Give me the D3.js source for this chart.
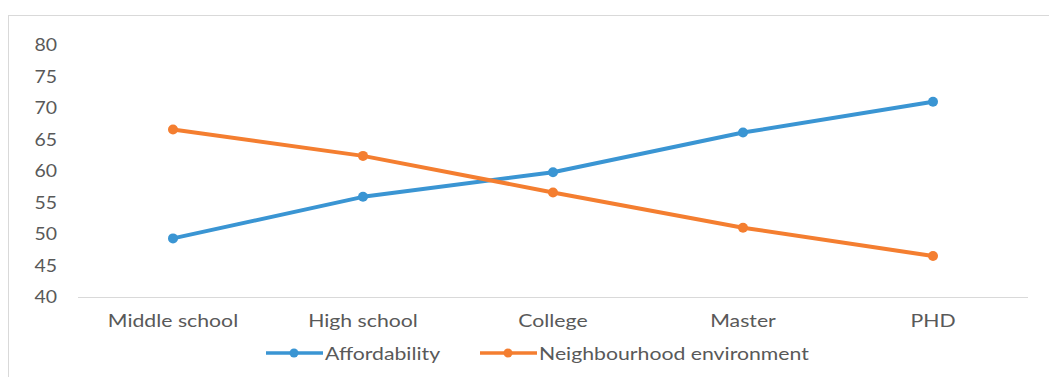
<!DOCTYPE html>
<html>
<head>
<meta charset="utf-8">
<script src="https://cdn.jsdelivr.net/npm/d3@7"></script>
<style>
  body { margin: 0; background: #fff; }
  text { font-family: Lato, "Open Sans", sans-serif; fill: #595959; }
</style>
</head>
<body>
<div id="chart"></div>
<script>
var w = 1049;
var h = 377;

var categories = ["Middle school", "High school", "College", "Master", "PHD"];
var affordability = [49.3, 55.9, 59.8, 66.1, 71];
var neighbourhood = [66.6, 62.4, 56.6, 51, 46.5];
var yTicks = [40, 45, 50, 55, 60, 65, 70, 75, 80];
var seriesNames = ["Affordability", "Neighbourhood environment"];
var colors = ["#3a95d3", "#f47e30"];

var margin = {left: 78, right: 21, top: 45, bottom: 80};
var stretch = 1.18; // the picture's text is a bit wider than it is tall

var svg = d3.select("#chart")
            .append("svg")
            .attr("width", w)
            .attr("height", h);

// chart frame
svg.append("rect")
   .attr("x", 8.5)
   .attr("y", 15.5)
   .attr("width", w)
   .attr("height", h)
   .attr("fill", "none")
   .attr("stroke", "#d9d9d9");

var xScale = d3.scaleBand()
               .domain(categories)
               .range([margin.left, w - margin.right]);

var yScale = d3.scaleLinear()
               .domain([40, 80])
               .range([297, 45]);

// y labels
svg.selectAll(".ylab")
   .data(yTicks)
   .enter()
   .append("text")
   .attr("class", "ylab")
   .attr("transform", d => "translate(57," + yScale(d) + ") scale(1.08,1)")
   .attr("dy", "0.35em")
   .attr("text-anchor", "end")
   .attr("font-size", "18px")
   .text(d => d);

// baseline
svg.append("line")
   .attr("x1", margin.left)
   .attr("x2", w - margin.right)
   .attr("y1", yScale(40) + 0.5)
   .attr("y2", yScale(40) + 0.5)
   .attr("stroke", "#d9d9d9")
   .attr("stroke-width", 1);

// x labels
svg.selectAll(".xlab")
   .data(categories)
   .enter()
   .append("text")
   .attr("class", "xlab")
   .attr("transform", d => "translate(" + (xScale(d) + xScale.bandwidth() / 2) + ",321) scale(" + stretch + ",1)")
   .attr("dy", "0.35em")
   .attr("text-anchor", "middle")
   .attr("font-size", "18px")
   .text(d => d);

var line = d3.line()
             .x((d, i) => xScale(categories[i]) + xScale.bandwidth() / 2)
             .y(d => yScale(d));

[affordability, neighbourhood].forEach(function(series, k) {
  svg.append("path")
     .datum(series)
     .attr("d", line)
     .attr("fill", "none")
     .attr("stroke", colors[k])
     .attr("stroke-width", 4)
     .attr("stroke-linejoin", "round");

  svg.selectAll(".dot" + k)
     .data(series)
     .enter()
     .append("circle")
     .attr("class", "dot" + k)
     .attr("cx", (d, i) => xScale(categories[i]) + xScale.bandwidth() / 2)
     .attr("cy", d => yScale(d))
     .attr("r", 5)
     .attr("fill", colors[k]);
});

// legend
var legendX = [266, 480];
var legend = svg.selectAll(".legend")
                .data(seriesNames)
                .enter()
                .append("g")
                .attr("class", "legend")
                .attr("transform", (d, i) => "translate(" + legendX[i] + ",353)");

legend.append("line")
      .attr("x1", 0)
      .attr("x2", 57)
      .attr("stroke", (d, i) => colors[i])
      .attr("stroke-width", 3.5);

legend.append("circle")
      .attr("cx", 28)
      .attr("r", 4.5)
      .attr("fill", (d, i) => colors[i]);

legend.append("text")
      .attr("transform", "translate(59,1) scale(" + stretch + ",1)")
      .attr("dy", "0.35em")
      .attr("font-size", "18px")
      .text(d => d);
</script>
</body>
</html>
